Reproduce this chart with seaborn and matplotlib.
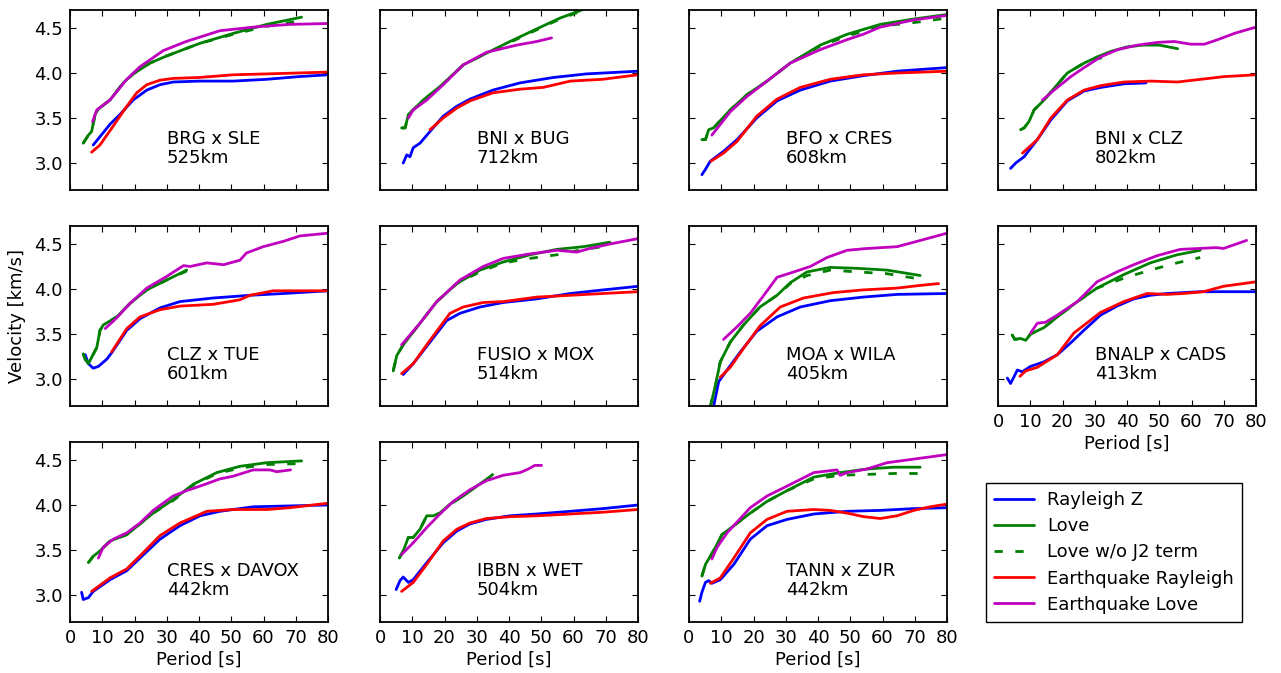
import numpy as np
import pandas as pd
import matplotlib
matplotlib.use("Agg")
import matplotlib.pyplot as plt
import seaborn as sns

# ---------------- data ----------------
station_pairs = ["BRG x SLE", "BNI x BUG", "BFO x CRES", "BNI x CLZ",
                 "CLZ x TUE", "FUSIO x MOX", "MOA x WILA", "BNALP x CADS",
                 "CRES x DAVOX", "IBBN x WET", "TANN x ZUR"]
distances_km = [525, 712, 608, 802, 601, 514, 405, 413, 442, 504, 442]
series_labels = ["Rayleigh Z", "Love", "Love w/o J2 term",
                 "Earthquake Rayleigh", "Earthquake Love"]
x_ticks = [0, 10, 20, 30, 40, 50, 60, 70, 80]
y_ticks = [3.0, 3.5, 4.0, 4.5]

# 1 BRG x SLE
T_brg_sle_rz = [7.2, 12.4, 15.5, 19.6, 23.8, 27.9, 32, 40, 50.6, 61, 71, 80]
V_brg_sle_rz = [3.20, 3.43, 3.54, 3.70, 3.81, 3.87, 3.90, 3.91, 3.91, 3.93, 3.96, 3.98]
T_brg_sle_lv = [4.1, 5.7, 6.7, 7.8, 8.8, 12.4, 16.5, 19.6, 24.8, 30, 40.3, 50.6, 61, 71.8]
V_brg_sle_lv = [3.22, 3.31, 3.35, 3.54, 3.60, 3.70, 3.89, 3.99, 4.11, 4.19, 4.33, 4.44, 4.54, 4.62]
T_brg_sle_lj = [4.1, 5.7, 6.7, 7.8, 8.8, 12.4, 16.5, 19.6, 24.8, 30, 40.3, 50.6, 61, 71.8]
V_brg_sle_lj = [3.22, 3.31, 3.35, 3.54, 3.60, 3.70, 3.89, 3.99, 4.11, 4.19, 4.33, 4.43, 4.52, 4.58]
T_brg_sle_er = [6.7, 9.3, 13.4, 17.6, 20.7, 23.8, 27.9, 32, 40, 50.6, 61, 80]
V_brg_sle_er = [3.12, 3.20, 3.41, 3.63, 3.78, 3.87, 3.92, 3.94, 3.95, 3.98, 3.99, 4.01]
T_brg_sle_el = [7, 8.3, 12.4, 17.6, 21.7, 29, 36, 46.5, 57, 68, 80]
V_brg_sle_el = [3.46, 3.59, 3.70, 3.93, 4.07, 4.25, 4.35, 4.47, 4.51, 4.54, 4.55]

# 2 BNI x BUG
T_bni_bug_rz = [7.2, 8.3, 9.3, 10.3, 12.4, 15.5, 19.6, 23.8, 27.9, 35, 43.4, 53.7, 64, 80]
V_bni_bug_rz = [3.00, 3.09, 3.07, 3.17, 3.22, 3.35, 3.52, 3.63, 3.71, 3.81, 3.89, 3.95, 3.99, 4.02]
T_bni_bug_lv = [6.7, 7.8, 8.8, 10.3, 13.4, 18.6, 25.8, 33, 40.3, 48.6, 55.8, 62.6]
V_bni_bug_lv = [3.39, 3.39, 3.54, 3.59, 3.70, 3.85, 4.09, 4.22, 4.35, 4.49, 4.61, 4.70]
T_bni_bug_lj = [6.7, 7.8, 8.8, 10.3, 13.4, 18.6, 25.8, 33, 40.3, 48.6, 55.8, 62.6]
V_bni_bug_lj = [3.39, 3.39, 3.54, 3.59, 3.70, 3.84, 4.09, 4.22, 4.34, 4.48, 4.60, 4.69]
T_bni_bug_er = [15.5, 19.6, 23.8, 27.9, 35, 43.4, 50.6, 59, 69, 80]
V_bni_bug_er = [3.37, 3.50, 3.61, 3.69, 3.78, 3.82, 3.84, 3.91, 3.93, 3.98]
T_bni_bug_el = [8.8, 10.3, 14.5, 19.6, 25.8, 33, 42.4, 48.6, 53.2]
V_bni_bug_el = [3.50, 3.59, 3.70, 3.87, 4.09, 4.23, 4.31, 4.35, 4.39]

# 3 BFO x CRES
T_bfo_cres_rz = [4, 5.1, 6.6, 10.7, 14.9, 21, 27.3, 34.5, 43.8, 54, 64.5, 80]
V_bfo_cres_rz = [2.87, 2.93, 3.02, 3.13, 3.26, 3.50, 3.69, 3.81, 3.91, 3.97, 4.02, 4.06]
T_bfo_cres_lv = [4, 5.1, 6.1, 7.6, 12.8, 18, 24.2, 31.4, 40.7, 49, 59.3, 69.7, 80]
V_bfo_cres_lv = [3.26, 3.26, 3.37, 3.39, 3.59, 3.76, 3.91, 4.11, 4.31, 4.43, 4.54, 4.60, 4.65]
T_bfo_cres_lj = [4, 5.1, 6.1, 7.6, 12.8, 18, 24.2, 31.4, 40.7, 49, 59.3, 69.7, 80]
V_bfo_cres_lj = [3.26, 3.26, 3.37, 3.39, 3.59, 3.76, 3.91, 4.11, 4.30, 4.41, 4.52, 4.56, 4.61]
T_bfo_cres_er = [6.8, 10.7, 14.9, 21, 27.3, 34.5, 43.8, 54, 64.5, 80]
V_bfo_cres_er = [3.02, 3.11, 3.24, 3.52, 3.71, 3.84, 3.93, 3.98, 4.00, 4.02]
T_bfo_cres_el = [7.1, 12.8, 18, 24.2, 31.4, 40.7, 49, 54, 59.3, 69.7, 80]
V_bfo_cres_el = [3.31, 3.57, 3.74, 3.91, 4.11, 4.26, 4.37, 4.43, 4.51, 4.59, 4.64]

# 4 BNI x CLZ
T_bni_clz_rz = [3.9, 5.5, 8.1, 12.2, 16.4, 21.5, 26.7, 31.9, 39.1, 45.9]
V_bni_clz_rz = [2.94, 3.00, 3.07, 3.26, 3.48, 3.69, 3.80, 3.84, 3.88, 3.89]
T_bni_clz_lv = [7, 8.1, 9.6, 11.2, 14.3, 17.4, 21.5, 26.7, 30.8, 35, 40, 45, 50, 55.7]
V_bni_clz_lv = [3.37, 3.39, 3.46, 3.59, 3.70, 3.83, 4.00, 4.11, 4.18, 4.24, 4.29, 4.31, 4.31, 4.27]
T_bni_clz_lj = [7, 8.1, 9.6, 11.2, 14.3, 17.4, 21.5, 26.7, 30.8, 35.5]
V_bni_clz_lj = [3.37, 3.39, 3.46, 3.59, 3.70, 3.83, 4.00, 4.11, 4.16, 4.19]
T_bni_clz_er = [7.6, 12.2, 16.4, 21.5, 26.7, 31.9, 39.1, 47.4, 55.7, 62.9, 70.2, 80]
V_bni_clz_er = [3.11, 3.26, 3.50, 3.70, 3.81, 3.86, 3.90, 3.91, 3.90, 3.93, 3.96, 3.98]
T_bni_clz_el = [13.8, 17.4, 22.6, 26.7, 31.9, 37.1, 43.3, 49.5, 54.7, 59.8, 64, 68.1, 73.3, 80]
V_bni_clz_el = [3.70, 3.81, 3.96, 4.06, 4.18, 4.26, 4.31, 4.34, 4.35, 4.32, 4.32, 4.37, 4.44, 4.51]

# 5 CLZ x TUE
T_clz_tue_rz = [4.7, 5.7, 7.2, 8.8, 11.4, 12.9, 17.6, 21.7, 27.9, 34.1, 44.4, 55.8, 66.2, 80]
V_clz_tue_rz = [3.27, 3.17, 3.12, 3.14, 3.22, 3.29, 3.54, 3.67, 3.79, 3.86, 3.90, 3.93, 3.95, 3.98]
T_clz_tue_lv = [4.1, 4.7, 5.7, 6.7, 8.3, 9.3, 10.3, 14.5, 18.6, 23.8, 30, 36.2]
V_clz_tue_lv = [3.28, 3.22, 3.17, 3.24, 3.35, 3.54, 3.60, 3.69, 3.84, 3.99, 4.10, 4.21]
T_clz_tue_lj = [4.1, 4.7, 5.7, 6.7, 8.3, 9.3, 10.3, 14.5, 18.6, 23.8, 30, 36.2]
V_clz_tue_lj = [3.28, 3.22, 3.17, 3.24, 3.35, 3.54, 3.60, 3.69, 3.84, 3.99, 4.10, 4.20]
T_clz_tue_er = [12.9, 17.6, 21.7, 27.9, 34.1, 44.4, 52.7, 55.8, 63, 71.3, 80]
V_clz_tue_er = [3.30, 3.56, 3.69, 3.77, 3.81, 3.83, 3.88, 3.93, 3.98, 3.98, 3.98]
T_clz_tue_el = [10.9, 14.5, 18.6, 23.8, 30, 35.2, 37.2, 42.4, 47.6, 52.7, 54.7, 59.9, 66.2, 71.3, 80]
V_clz_tue_el = [3.56, 3.68, 3.84, 4.01, 4.14, 4.26, 4.25, 4.29, 4.27, 4.32, 4.40, 4.47, 4.53, 4.59, 4.62]

# 6 FUSIO x MOX
T_fusio_mox_rz = [7.2, 10.3, 15.5, 20.7, 24.8, 31, 38.2, 48.6, 59, 69.2, 80]
V_fusio_mox_rz = [3.05, 3.17, 3.41, 3.65, 3.73, 3.80, 3.85, 3.89, 3.95, 3.99, 4.03]
T_fusio_mox_lv = [4.1, 5.2, 7.2, 12.4, 17.6, 23.8, 31, 38.2, 46.5, 54.8, 63, 71.3]
V_fusio_mox_lv = [3.09, 3.26, 3.38, 3.62, 3.86, 4.06, 4.21, 4.30, 4.38, 4.44, 4.47, 4.52]
T_fusio_mox_lj = [4.1, 5.2, 7.2, 12.4, 17.6, 23.8, 31, 38.2, 46.5, 54.8, 63, 71.3]
V_fusio_mox_lj = [3.09, 3.26, 3.38, 3.62, 3.86, 4.06, 4.19, 4.29, 4.34, 4.38, 4.44, 4.48]
T_fusio_mox_er = [6.7, 10.3, 15.5, 21.7, 25.8, 32, 38.2, 48.6, 59, 69.2, 80]
V_fusio_mox_er = [3.06, 3.17, 3.43, 3.73, 3.80, 3.85, 3.86, 3.91, 3.93, 3.95, 3.97]
T_fusio_mox_el = [6.7, 12.4, 17.6, 24.8, 32, 38.2, 46.5, 54.8, 61, 65, 71.3, 80]
V_fusio_mox_el = [3.38, 3.62, 3.86, 4.10, 4.25, 4.34, 4.39, 4.43, 4.41, 4.45, 4.50, 4.56]

# 7 MOA x WILA
T_moa_wila_rz = [7.6, 9.2, 11.8, 15.9, 21, 27.3, 34.5, 43.8, 54, 64.5, 80]
V_moa_wila_rz = [2.69, 2.97, 3.10, 3.30, 3.53, 3.69, 3.80, 3.87, 3.91, 3.94, 3.95]
T_moa_wila_lv = [6.6, 8.2, 9.7, 12.8, 16.9, 22, 27.3, 31.4, 36.6, 43.8, 52, 61.4, 71.7]
V_moa_wila_lv = [2.69, 2.93, 3.19, 3.41, 3.60, 3.80, 3.93, 4.07, 4.19, 4.24, 4.23, 4.21, 4.15]
T_moa_wila_lj = [6.6, 8.2, 9.7, 12.8, 16.9, 22, 27.3, 31.4, 36.6, 43.8, 52, 61.4, 71.7]
V_moa_wila_lj = [2.69, 2.93, 3.19, 3.41, 3.60, 3.80, 3.93, 4.06, 4.15, 4.21, 4.19, 4.17, 4.11]
T_moa_wila_er = [9.7, 12.8, 16.9, 22, 28.3, 35.5, 44.8, 54, 64.5, 71.7, 77.4]
V_moa_wila_er = [3.02, 3.13, 3.34, 3.59, 3.80, 3.90, 3.96, 3.99, 4.01, 4.04, 4.06]
T_moa_wila_el = [10.7, 14.9, 19, 23.2, 27.3, 32.5, 37.6, 42.8, 49, 55.1, 64.5, 69.7, 80]
V_moa_wila_el = [3.44, 3.58, 3.73, 3.93, 4.13, 4.19, 4.25, 4.35, 4.43, 4.45, 4.47, 4.52, 4.62]

# 8 BNALP x CADS
T_bnalp_cads_rz = [2.9, 3.9, 4.9, 6, 7.5, 10.1, 14.2, 18.4, 22.5, 26.6, 31.8, 36.9, 42.1, 47.2, 52.4, 62.7, 80]
V_bnalp_cads_rz = [3.01, 2.95, 3.02, 3.10, 3.08, 3.14, 3.19, 3.27, 3.40, 3.54, 3.71, 3.81, 3.89, 3.93, 3.95, 3.97, 3.97]
T_bnalp_cads_lv = [4.4, 5.2, 7, 8.6, 10.1, 14.2, 18.4, 24.6, 30.7, 39, 47.2, 55.5, 62.7]
V_bnalp_cads_lv = [3.49, 3.44, 3.45, 3.43, 3.50, 3.57, 3.69, 3.86, 4.01, 4.16, 4.29, 4.38, 4.43]
T_bnalp_cads_lj = [4.4, 5.2, 7, 8.6, 10.1, 14.2, 18.4, 24.6, 30.7, 39, 47.2, 55.5, 62.7]
V_bnalp_cads_lj = [3.49, 3.44, 3.45, 3.43, 3.50, 3.57, 3.69, 3.86, 4.01, 4.12, 4.21, 4.29, 4.35]
T_bnalp_cads_er = [6.8, 8.6, 12.2, 18.4, 23.5, 31.8, 39, 46.2, 52.4, 57.5, 63.7, 69.9, 80]
V_bnalp_cads_er = [3.03, 3.09, 3.13, 3.27, 3.51, 3.74, 3.86, 3.95, 3.94, 3.95, 3.97, 4.03, 4.08]
T_bnalp_cads_el = [10.1, 12.2, 14.7, 18.4, 24.6, 30.7, 36.9, 42.1, 49.3, 56.5, 67.8, 69.9, 77.1]
V_bnalp_cads_el = [3.51, 3.62, 3.63, 3.71, 3.86, 4.08, 4.19, 4.27, 4.37, 4.44, 4.46, 4.45, 4.54]

# 9 CRES x DAVOX
T_cres_davox_rz = [3.6, 4.1, 5.7, 7.2, 12.4, 17.6, 21.7, 27.9, 34.1, 40.3, 46.5, 56.8, 80]
V_cres_davox_rz = [3.03, 2.95, 2.97, 3.04, 3.17, 3.27, 3.41, 3.62, 3.77, 3.88, 3.93, 3.98, 4.00]
T_cres_davox_lv = [5.7, 7.2, 9.3, 12.4, 17.6, 21.7, 25.8, 32, 38.2, 45.5, 52.7, 61, 71.8]
V_cres_davox_lv = [3.36, 3.43, 3.49, 3.60, 3.67, 3.79, 3.91, 4.06, 4.23, 4.36, 4.43, 4.47, 4.49]
T_cres_davox_lj = [5.7, 7.2, 9.3, 12.4, 17.6, 21.7, 25.8, 32, 38.2, 45.5, 52.7, 61, 71.8]
V_cres_davox_lj = [3.36, 3.43, 3.49, 3.60, 3.67, 3.79, 3.91, 4.05, 4.22, 4.35, 4.41, 4.45, 4.46]
T_cres_davox_er = [6.7, 12.4, 17.6, 22.7, 27.9, 34.1, 42.4, 50.6, 61, 68.2, 80]
V_cres_davox_er = [3.04, 3.19, 3.29, 3.47, 3.66, 3.80, 3.93, 3.95, 3.95, 3.97, 4.02]
T_cres_davox_el = [8.8, 10.3, 13.4, 17.6, 21.7, 25.8, 32, 36.2, 40.3, 46.5, 50.6, 56.8, 62, 64.1, 68.4]
V_cres_davox_el = [3.41, 3.53, 3.62, 3.69, 3.80, 3.94, 4.10, 4.16, 4.21, 4.29, 4.32, 4.39, 4.39, 4.37, 4.39]

# 10 IBBN x WET
T_ibbn_wet_rz = [5, 6.2, 7.2, 8.8, 10.3, 14.5, 19.6, 23.8, 27.9, 33, 40.3, 48.6, 59, 69.2, 80]
V_ibbn_wet_rz = [3.06, 3.16, 3.20, 3.14, 3.17, 3.36, 3.58, 3.71, 3.79, 3.84, 3.88, 3.90, 3.93, 3.96, 4.00]
T_ibbn_wet_lv = [6, 7.2, 8.8, 10.3, 12.4, 14.5, 16.5, 18.6, 21.7, 25.8, 30, 33.6]
V_ibbn_wet_lv = [3.41, 3.49, 3.64, 3.64, 3.73, 3.88, 3.88, 3.91, 4.01, 4.10, 4.21, 4.30]
T_ibbn_wet_lj = [6, 7.2, 8.8, 10.3, 12.4, 14.5, 16.5, 18.6, 21.7, 25.8, 30, 33.6, 36, 38.2]
V_ibbn_wet_lj = [3.41, 3.49, 3.64, 3.64, 3.73, 3.88, 3.88, 3.91, 4.01, 4.10, 4.21, 4.30, 4.37, 4.43]
T_ibbn_wet_er = [6.7, 10.3, 14.5, 19.6, 23.8, 27.9, 33, 40.3, 48.6, 59, 69.2, 80]
V_ibbn_wet_er = [3.04, 3.14, 3.34, 3.60, 3.73, 3.80, 3.85, 3.87, 3.88, 3.90, 3.92, 3.95]
T_ibbn_wet_el = [6.7, 10.3, 14.5, 18.6, 22.7, 27.9, 33, 38.2, 43.4, 46, 48, 50.1]
V_ibbn_wet_el = [3.45, 3.58, 3.75, 3.90, 4.04, 4.17, 4.27, 4.33, 4.36, 4.40, 4.44, 4.44]

# 11 TANN x ZUR
T_tann_zur_rz = [3.3, 4, 5.1, 6.1, 7.1, 9.7, 13.9, 19, 24.2, 30.4, 38.7, 49, 59.3, 69.7, 80]
V_tann_zur_rz = [2.93, 3.03, 3.14, 3.16, 3.13, 3.17, 3.34, 3.62, 3.77, 3.84, 3.90, 3.93, 3.94, 3.96, 3.97]
T_tann_zur_lv = [4, 5.1, 6.6, 8.2, 10.2, 13.9, 19, 24.2, 30.4, 38.7, 46.9, 55.2, 63.5, 71.7]
V_tann_zur_lv = [3.21, 3.34, 3.43, 3.53, 3.67, 3.77, 3.91, 4.04, 4.16, 4.31, 4.36, 4.40, 4.42, 4.42]
T_tann_zur_lj = [4, 5.1, 6.6, 8.2, 10.2, 13.9, 19, 24.2, 30.4, 38.7, 46.9, 55.2, 63.5, 71.7]
V_tann_zur_lj = [3.21, 3.34, 3.43, 3.53, 3.67, 3.77, 3.91, 4.04, 4.16, 4.29, 4.33, 4.34, 4.35, 4.35]
T_tann_zur_er = [6.6, 9.7, 13.9, 19, 24.2, 30.4, 38.7, 43.8, 49, 54.2, 59.3, 64.5, 69.7, 74.8, 80]
V_tann_zur_er = [3.13, 3.19, 3.41, 3.69, 3.84, 3.93, 3.95, 3.94, 3.91, 3.87, 3.85, 3.88, 3.94, 3.98, 4.01]
T_tann_zur_el = [7.1, 8.7, 11.8, 19, 24.2, 30.4, 38.7, 45.9, 46.9, 49, 55.2, 61.4, 69.7, 80]
V_tann_zur_el = [3.40, 3.53, 3.69, 3.97, 4.10, 4.21, 4.36, 4.39, 4.33, 4.36, 4.40, 4.47, 4.51, 4.56]

panel_series = [
    [(T_brg_sle_rz, V_brg_sle_rz), (T_brg_sle_lv, V_brg_sle_lv), (T_brg_sle_lj, V_brg_sle_lj), (T_brg_sle_er, V_brg_sle_er), (T_brg_sle_el, V_brg_sle_el)],
    [(T_bni_bug_rz, V_bni_bug_rz), (T_bni_bug_lv, V_bni_bug_lv), (T_bni_bug_lj, V_bni_bug_lj), (T_bni_bug_er, V_bni_bug_er), (T_bni_bug_el, V_bni_bug_el)],
    [(T_bfo_cres_rz, V_bfo_cres_rz), (T_bfo_cres_lv, V_bfo_cres_lv), (T_bfo_cres_lj, V_bfo_cres_lj), (T_bfo_cres_er, V_bfo_cres_er), (T_bfo_cres_el, V_bfo_cres_el)],
    [(T_bni_clz_rz, V_bni_clz_rz), (T_bni_clz_lv, V_bni_clz_lv), (T_bni_clz_lj, V_bni_clz_lj), (T_bni_clz_er, V_bni_clz_er), (T_bni_clz_el, V_bni_clz_el)],
    [(T_clz_tue_rz, V_clz_tue_rz), (T_clz_tue_lv, V_clz_tue_lv), (T_clz_tue_lj, V_clz_tue_lj), (T_clz_tue_er, V_clz_tue_er), (T_clz_tue_el, V_clz_tue_el)],
    [(T_fusio_mox_rz, V_fusio_mox_rz), (T_fusio_mox_lv, V_fusio_mox_lv), (T_fusio_mox_lj, V_fusio_mox_lj), (T_fusio_mox_er, V_fusio_mox_er), (T_fusio_mox_el, V_fusio_mox_el)],
    [(T_moa_wila_rz, V_moa_wila_rz), (T_moa_wila_lv, V_moa_wila_lv), (T_moa_wila_lj, V_moa_wila_lj), (T_moa_wila_er, V_moa_wila_er), (T_moa_wila_el, V_moa_wila_el)],
    [(T_bnalp_cads_rz, V_bnalp_cads_rz), (T_bnalp_cads_lv, V_bnalp_cads_lv), (T_bnalp_cads_lj, V_bnalp_cads_lj), (T_bnalp_cads_er, V_bnalp_cads_er), (T_bnalp_cads_el, V_bnalp_cads_el)],
    [(T_cres_davox_rz, V_cres_davox_rz), (T_cres_davox_lv, V_cres_davox_lv), (T_cres_davox_lj, V_cres_davox_lj), (T_cres_davox_er, V_cres_davox_er), (T_cres_davox_el, V_cres_davox_el)],
    [(T_ibbn_wet_rz, V_ibbn_wet_rz), (T_ibbn_wet_lv, V_ibbn_wet_lv), (T_ibbn_wet_lj, V_ibbn_wet_lj), (T_ibbn_wet_er, V_ibbn_wet_er), (T_ibbn_wet_el, V_ibbn_wet_el)],
    [(T_tann_zur_rz, V_tann_zur_rz), (T_tann_zur_lv, V_tann_zur_lv), (T_tann_zur_lj, V_tann_zur_lj), (T_tann_zur_er, V_tann_zur_er), (T_tann_zur_el, V_tann_zur_el)],
]

# ---------------- style ----------------
sns.set_style("white")
plt.rcParams.update({
    "font.family": ["DejaVu Sans"],
    "font.size": 13,
    "text.color": "black",
    "axes.labelcolor": "black",
    "axes.linewidth": 1.3,
    "axes.edgecolor": "black",
    "xtick.direction": "in",
    "ytick.direction": "in",
    "xtick.top": True,
    "ytick.right": True,
    "xtick.major.size": 4,
    "ytick.major.size": 4,
    "xtick.major.width": 0.8,
    "ytick.major.width": 0.8,
    "xtick.labelsize": 13,
    "ytick.labelsize": 13,
    "xtick.color": "black",
    "ytick.color": "black",
    "xtick.labelcolor": "black",
    "ytick.labelcolor": "black",
    "legend.labelcolor": "black",
    "lines.scale_dashes": True,
})

colors = ["#0000ff", "#008000", "#008000", "#ff0000", "#bf00bf"]
styles = ["-", "-", (0, (3, 4.5)), "-", "-"]
draw_order = [0, 2, 1, 3, 4]

W, H = 1281, 673
fig = plt.figure(figsize=(W / 100, H / 100), dpi=100)
fig.patch.set_facecolor("white")

col_left = [70, 380, 689, 998]
row_top = [10, 226, 442]
ax_w, ax_h = 258, 180

axes = []
for i in range(11):
    r, c = divmod(i, 4)
    rect = [col_left[c] / W, 1 - (row_top[r] + ax_h) / H, ax_w / W, ax_h / H]
    ax = fig.add_axes(rect)
    axes.append(ax)
    for k in draw_order:
        T, V = panel_series[i][k]
        df = pd.DataFrame({"Period": T, "Velocity": V})
        sns.lineplot(data=df, x="Period", y="Velocity", ax=ax, color=colors[k],
                     linestyle=styles[k], linewidth=2, estimator=None, sort=False,
                     legend=False, label=series_labels[k])
    ax.set_xlim(0, 80)
    ax.set_ylim(2.7, 4.7)
    ax.set_xticks(x_ticks)
    ax.set_yticks(y_ticks)
    ax.text(30, 3.0, f"{station_pairs[i]}\n{distances_km[i]}km", fontsize=13,
            color="black", va="baseline", ha="left", linespacing=1.1)
    for sp in ax.spines.values():
        sp.set_visible(True)
        sp.set_color("black")
        sp.set_linewidth(1.3)
    ax.tick_params(which="both", direction="in", top=True, right=True,
                   bottom=True, left=True, length=4, pad=5,
                   colors="black", labelcolor="black")
    if c == 0:
        ax.set_yticklabels(["3.0", "3.5", "4.0", "4.5"])
    else:
        ax.set_yticklabels([])
    if r == 2 or i == 7:
        ax.set_xticklabels([str(t) for t in x_ticks])
        ax.set_xlabel("Period [s]", fontsize=13, labelpad=3, color="black")
    else:
        ax.set_xticklabels([])
        ax.set_xlabel("")
    if i == 4:
        ax.set_ylabel("Velocity [km/s]", fontsize=13, labelpad=6, color="black")
    else:
        ax.set_ylabel("")

handles, labels = axes[0].get_legend_handles_labels()
order = [labels.index(l) for l in series_labels]
leg = fig.legend([handles[j] for j in order], [labels[j] for j in order],
                 loc="upper left", bbox_to_anchor=(986 / W, 1 - 483 / H),
                 bbox_transform=fig.transFigure, frameon=True, fancybox=False,
                 framealpha=1, edgecolor="black", fontsize=13,
                 handlelength=2.2, handletextpad=0.75, labelspacing=0.45,
                 borderpad=0.45, borderaxespad=0, labelcolor="black")
leg.get_frame().set_linewidth(1.0)

fig.savefig("out.png", dpi=100, facecolor="white")
